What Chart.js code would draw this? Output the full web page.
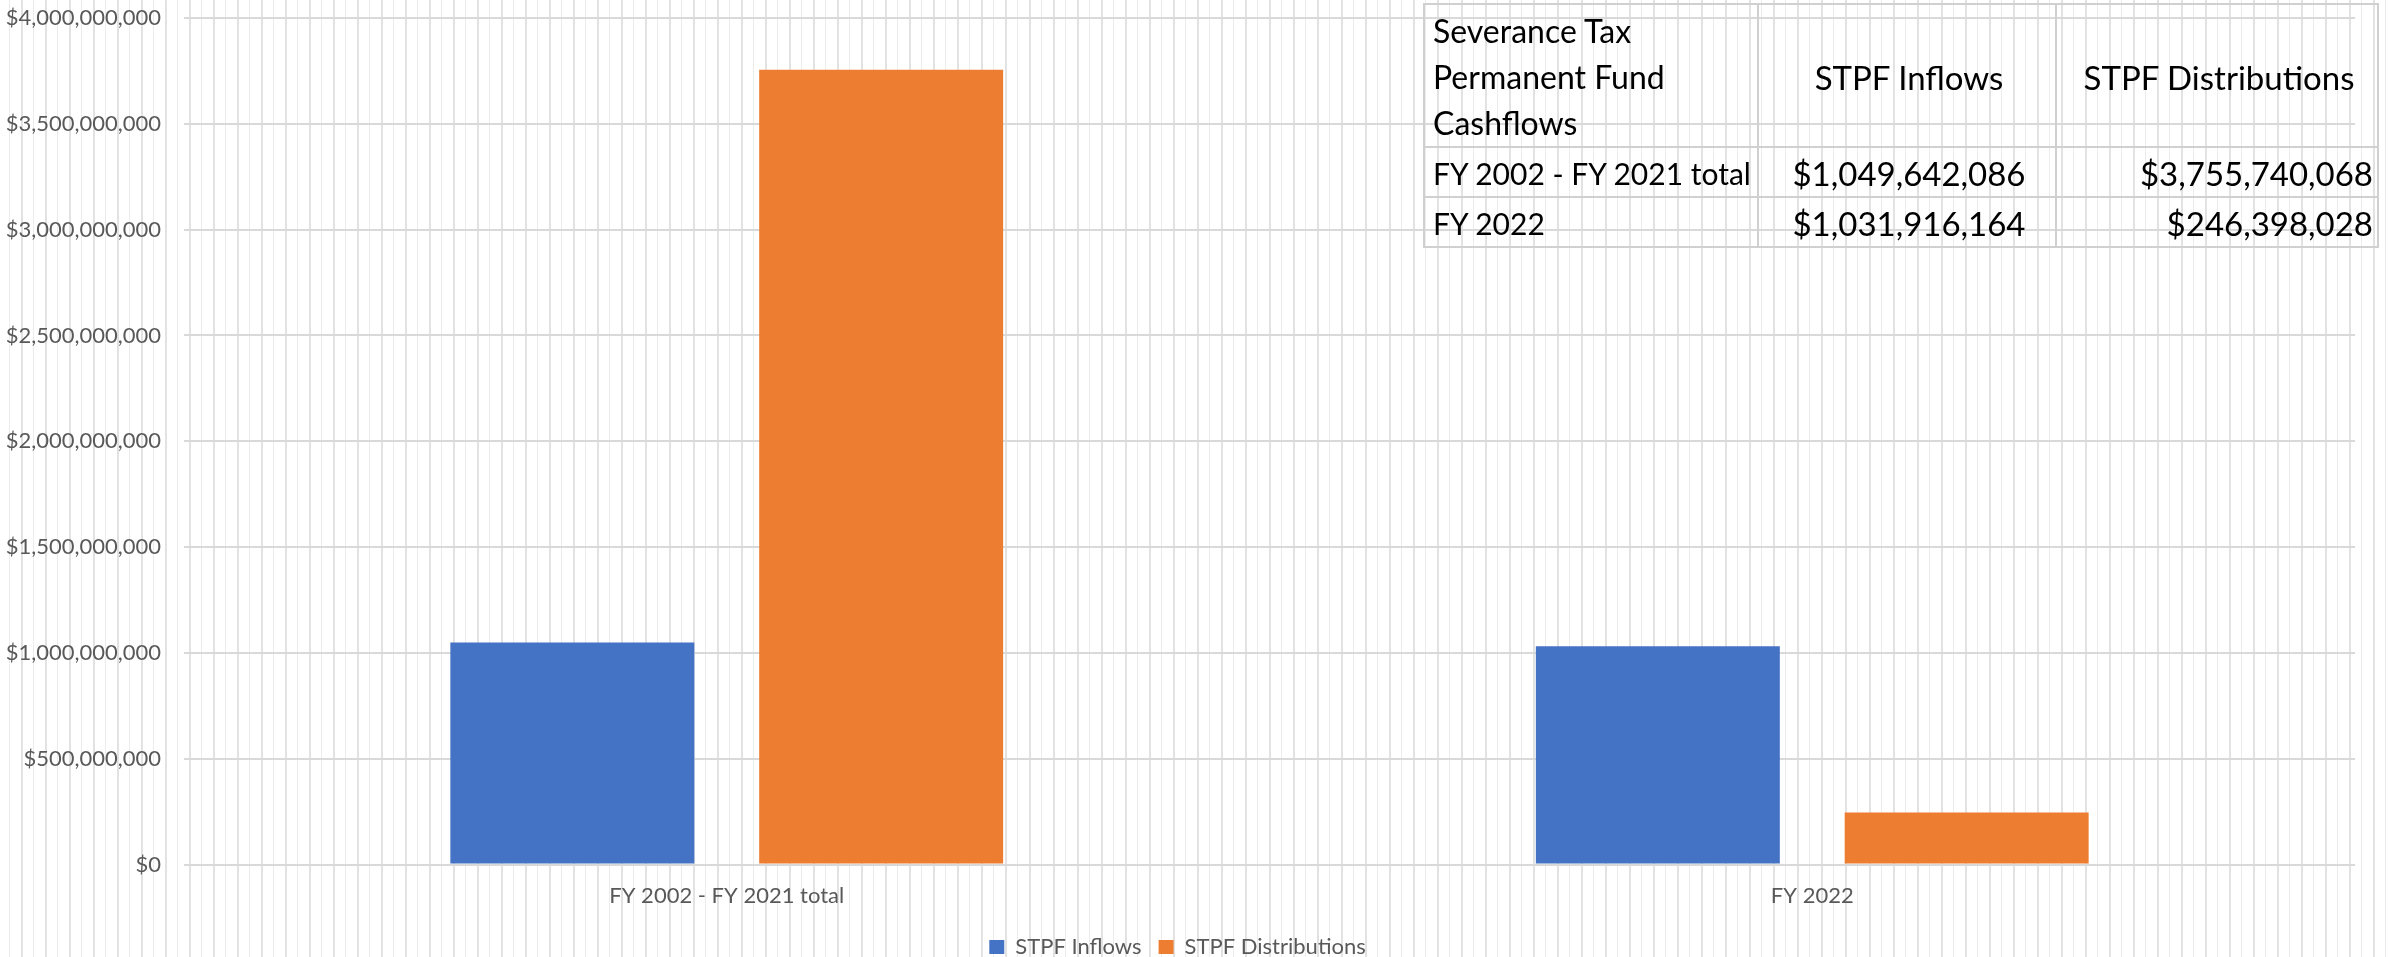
<!DOCTYPE html>
<html>
<head>
<meta charset="utf-8">
<script src="https://cdn.jsdelivr.net/npm/chart.js@4.4.1/dist/chart.umd.min.js"></script>
<style>
  html, body { margin: 0; padding: 0; background: #fff; }
  #wrap {
    position: relative;
    width: 2391px;
    height: 957px;
    overflow: hidden;
    /* spreadsheet cell lines behind the chart */
    background-image: repeating-linear-gradient(to right,
      transparent 0px, transparent 9px,
      #ececec 9px, #ececec 10px,
      transparent 10px, transparent 21px,
      #e2e2e2 21px, #e2e2e2 23px,
      transparent 23px, transparent 24px);
  }
  #chart { position: absolute; left: 0; top: 0; }
  #stpf-table {
    position: absolute;
    left: 1423px;
    top: 3px;
    border-collapse: collapse;
    table-layout: fixed;
    width: 954px;
    font-family: Lato, "Open Sans", sans-serif;
    font-size: 33px;
    line-height: 46px;
    color: #000;
    background: transparent;
  }
  #stpf-table td {
    border: 2px solid #d0d0d0;
    padding: 2px 4px 0 8px;
    white-space: nowrap;
  }
  #stpf-table td.h { padding-top: 3px; }
  #stpf-table td.first { font-size: 30px; }
  #stpf-table td.c { text-align: center; }
  #stpf-table td.r { text-align: right; }
</style>
</head>
<body>
<div id="wrap">
  <canvas id="chart" width="2391" height="957"></canvas>
  <table id="stpf-table">
    <colgroup><col style="width:334px"><col style="width:298px"><col style="width:322px"></colgroup>
    <tbody id="stpf-body"></tbody>
  </table>
</div>
<script>
// Data
const categories = ['FY 2002 - FY 2021 total', 'FY 2022'];
const inflows = [1049642086, 1031916164];
const distributions = [3755740068, 246398028];
const seriesNames = ['STPF Inflows', 'STPF Distributions'];
const tableTitle = ['Severance Tax', 'Permanent Fund', 'Cashflows'];

const yMax = 4000000000;
const yStep = 500000000;

const money = v => '$' + Math.round(v).toLocaleString('en-US');

// Table overlay
!function(){
  const body = document.getElementById('stpf-body');
  let html = '<tr><td class="first h" style="font-size:32px">' + tableTitle.join('<br>') + '</td>' +
    '<td class="c h">' + seriesNames[0] + '</td>' +
    '<td class="c h">' + seriesNames[1] + '</td></tr>';
  categories.forEach((c, i) => {
    html += '<tr><td class="first">' + c + '</td>' +
      '<td class="c">' + money(inflows[i]) + '</td>' +
      '<td class="r">' + money(distributions[i]) + '</td></tr>';
  });
  body.innerHTML = html;
}();

// Chart
!function(){
  const ctx = document.getElementById('chart');
  const textColor = '#595959';
  const font = { family: 'Lato, "Open Sans", sans-serif', size: 22 };

  new Chart(ctx, {
    type: 'bar',
    data: {
      labels: categories,
      datasets: [
        {
          label: seriesNames[0],
          data: inflows,
          backgroundColor: '#4472C4',
          borderWidth: 0,
          categoryPercentage: 0.569,
          barPercentage: 0.79
        },
        {
          label: seriesNames[1],
          data: distributions,
          backgroundColor: '#ED7D31',
          borderWidth: 0,
          categoryPercentage: 0.569,
          barPercentage: 0.79
        }
      ]
    },
    options: {
      responsive: false,
      animation: false,
      layout: {
        padding: { top: 18, right: 36, left: 0, bottom: -11 }
      },
      scales: {
        x: {
          grid: { display: false },
          border: { display: false },
          ticks: { color: textColor, font: font, padding: 10 }
        },
        y: {
          min: 0,
          max: yMax,
          grid: { color: '#d9d9d9', lineWidth: 2, drawTicks: false },
          border: { display: false },
          ticks: {
            stepSize: yStep,
            color: textColor,
            font: font,
            padding: 23,
            callback: v => money(v)
          },
          afterFit: scale => {
            scale.width = 184;
            scale.paddingTop = 0;
            scale.paddingBottom = 0;
          }
        }
      },
      plugins: {
        legend: {
          position: 'bottom',
          labels: {
            color: textColor,
            font: font,
            boxWidth: 15,
            boxHeight: 14,
            padding: 17
          }
        },
        tooltip: { enabled: false }
      }
    }
  });
}();
</script>
</body>
</html>
